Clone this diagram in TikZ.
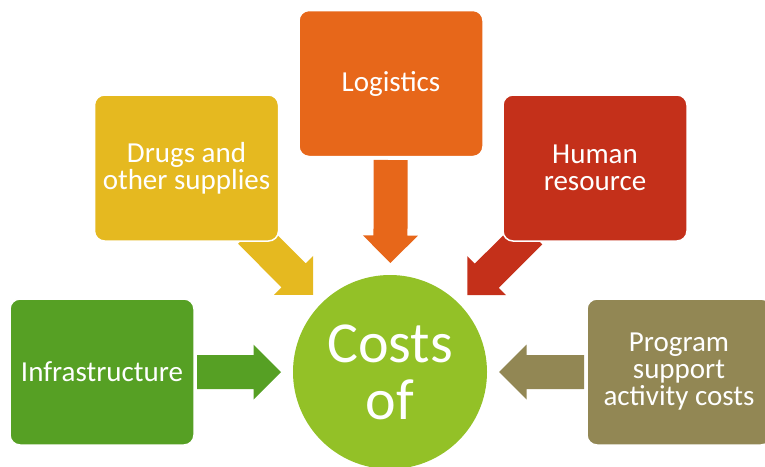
\documentclass[tikz,border=0pt]{standalone}
\usepackage{fontspec}
\setmainfont{Carlito}
\usetikzlibrary{calc}
\definecolor{infragreen}{HTML}{56A024}
\definecolor{costgreen}{HTML}{93C127}
\definecolor{drugyellow}{HTML}{E5B920}
\definecolor{logorange}{HTML}{E7671A}
\definecolor{humanred}{HTML}{C4301A}
\definecolor{progolive}{HTML}{928754}
\tikzset{
	costbox/.style={rectangle, rounded corners=10pt, minimum width=184pt, minimum height=146pt, inner sep=0pt, draw=white, line width=1.5pt, text=white, align=center, font=\fontsize{29}{27}\selectfont},
	costhub/.style={circle, minimum size=194pt, inner sep=0pt, text=white, align=center, font=\fontsize{58}{57}\selectfont}
}
% block arrow from node #3 toward hub #2, tip 109 off the hub centre, tail at #4
\def\blockarrow[#1](#2)(#3)(#4){
	\coordinate (tp) at ($(#2)!109pt!(#3)$);
	\coordinate (bs) at ($(#2)!136.5pt!(#3)$);
	\coordinate (tl) at ($(#2)!#4!(#3)$);
	\fill[#1] (tp) -- ($(bs)!27.5pt!90:(#3)$) -- ($(bs)!17pt!90:(#3)$) -- ($(tl)!17pt!90:(#3)$)
		-- ($(tl)!17pt!-90:(#3)$) -- ($(bs)!17pt!-90:(#3)$) -- ($(bs)!27.5pt!-90:(#3)$) -- cycle;
}

\begin{document}
\begin{tikzpicture}[x=1pt, y=-1pt]
			%%%%% START %%%%%
			\useasboundingbox (0, 0) rectangle (765, 466);
			\clip (0, 0) rectangle (765, 466);
			
			\coordinate (hubc) at (390, 372);
			\coordinate (infrac) at (102, 372);
			\coordinate (drugc) at (186.5, 168);
			\coordinate (logc) at (391, 83.5);
			\coordinate (humanc) at (595, 168);
			\coordinate (progc) at (679, 372);
			
			\blockarrow[infragreen](hubc)(infrac)(193pt)
			\blockarrow[drugyellow](hubc)(drugc)(198pt)
			\blockarrow[logorange](hubc)(logc)(212pt)
			\blockarrow[humanred](hubc)(humanc)(198pt)
			\blockarrow[progolive](hubc)(progc)(194pt)
			
			\node[costbox, fill=infragreen] (infra) at (infrac) {Infrastructure};
			\node[costbox, fill=drugyellow] (drugs) at (drugc) {Drugs and\\other supplies};
			\node[costbox, fill=logorange] (logistics) at (logc) {Logistics};
			\node[costbox, fill=humanred] (human) at (humanc) {Human\\resource};
			\node[costbox, fill=progolive] (program) at (progc) {Program\\support\\activity costs};
			
			\node[costhub, fill=costgreen] (hub) at (hubc) {Costs\\of};
			
			%%%%% END %%%%%
		\end{tikzpicture}
\end{document}
